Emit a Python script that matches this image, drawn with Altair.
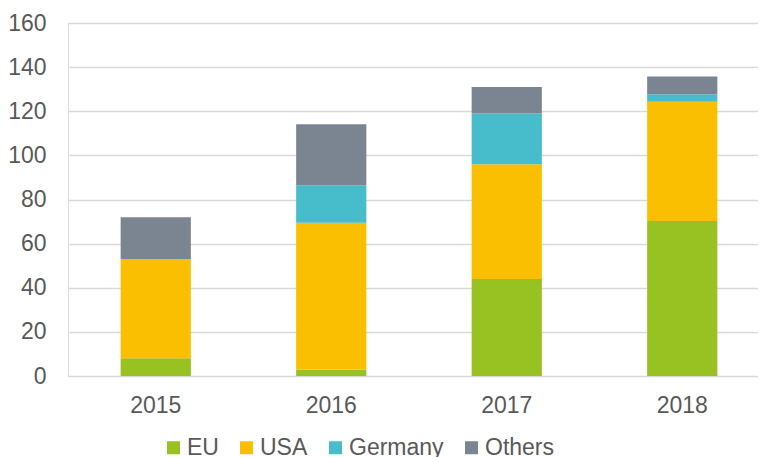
import altair as alt
import pandas as pd

years = ["2015", "2016", "2017", "2018"]
series = ["EU", "USA", "Germany", "Others"]
eu = [8, 3, 44, 70.3]
usa = [45, 66.5, 52, 54]
germany = [0, 17, 23, 3.4]
others = [19, 27.6, 12, 8]
colors = ["#98C122", "#FABF00", "#47BDCB", "#7B8591"]
y_ticks = [0, 20, 40, 60, 80, 100, 120, 140, 160]

rows = []
for i, yr in enumerate(years):
    for k, (name, vals) in enumerate(zip(series, [eu, usa, germany, others])):
        rows.append({"year": yr, "series": name, "value": vals[i], "order": k})
df = pd.DataFrame(rows)

font = "Liberation Sans"
txt = "#595959"

chart = (
    alt.Chart(df)
    .mark_bar()
    .encode(
        x=alt.X(
            "year:N",
            sort=years,
            title=None,
            scale=alt.Scale(paddingInner=0.6, paddingOuter=0.3, range=[0, 702]),
            axis=alt.Axis(
                labelAngle=0, labelFontSize=23, labelColor=txt, labelFont=font,
                ticks=False, tickSize=0, domain=False, grid=False, labelPadding=18,
            ),
        ),
        y=alt.Y(
            "value:Q",
            stack="zero",
            title=None,
            scale=alt.Scale(domain=[0, 160], nice=False),
            axis=alt.Axis(
                values=y_ticks, labelFontSize=23, labelColor=txt, labelFont=font,
                ticks=False, tickSize=0, domain=False, grid=True, gridColor="#D9D9D9",
                gridWidth=1.5, labelPadding=22,
            ),
        ),
        color=alt.Color(
            "series:N",
            sort=series,
            scale=alt.Scale(domain=series, range=colors),
            legend=alt.Legend(
                title=None, orient="none", direction="horizontal",
                legendX=94, legendY=413, symbolType="square", symbolSize=169,
                symbolStrokeWidth=0, labelFontSize=23, labelColor=txt, labelFont=font,
                labelOffset=2, columnPadding=16,
            ),
        ),
        order=alt.Order("order:Q", sort="ascending"),
    )
    .properties(
        width=690,
        height=353,
        autosize=alt.AutoSizeParams(type="none"),
        padding={"left": 60, "top": 15, "right": 0, "bottom": 81},
    )
    .configure_view(stroke="transparent", strokeWidth=0)
    .configure(background="white")
)

chart.save("out.html", embed_options={"renderer": "svg", "actions": False})
